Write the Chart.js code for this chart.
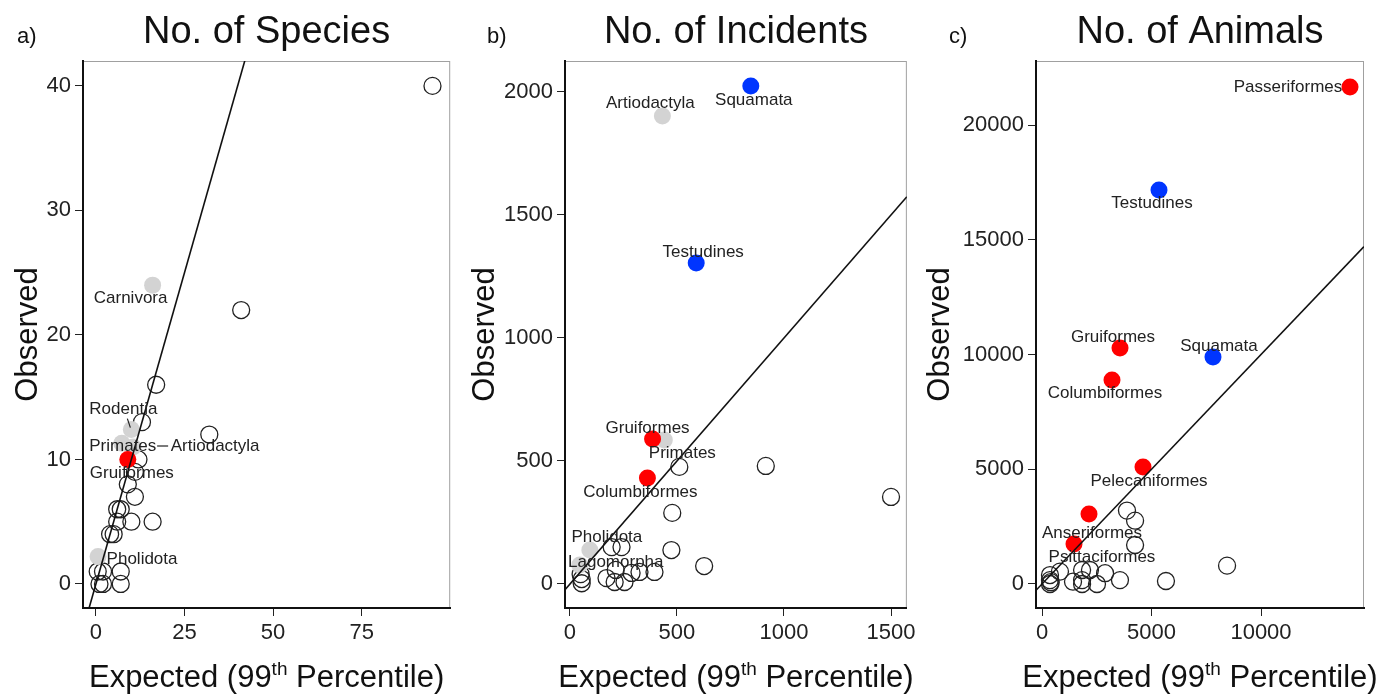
<!DOCTYPE html>
<html>
<head>
<meta charset="utf-8">
<script src="https://cdn.jsdelivr.net/npm/chart.js@4.4.1/dist/chart.umd.min.js"></script>
<style>
  body { margin: 0; background: #fff; width: 1384px; height: 695px; overflow: hidden; position: relative; }
  canvas { position: absolute; top: 0; }
</style>
</head>
<body>
<canvas id="a" width="460" height="695" style="left:0"></canvas>
<canvas id="b" width="460" height="695" style="left:460px"></canvas>
<canvas id="c" width="464" height="695" style="left:920px"></canvas>
<script>
// a) No. of Species
const speciesXTicks = [0, 25, 50, 75];
const speciesYTicks = [0, 10, 20, 30, 40];
const speciesOpen = [[95, 40], [41, 22], [17, 16], [13, 13], [32, 12], [12, 10], [11, 9], [9, 8], [11, 7],
  [6, 6], [7, 6], [6, 5], [10, 5], [16, 5], [4, 4], [5, 4], [0.5, 1], [2, 1], [7, 1], [1, 0], [2, 0], [7, 0]];
const speciesGrey = [[16, 24], [10, 12.4], [7.3, 11.3], [10.5, 11], [0.6, 2.2]];
const speciesGreyNames = ['Carnivora', 'Rodentia', 'Primates', 'Artiodactyla', 'Pholidota'];
const speciesRed = [[9, 10]];
const speciesRedNames = ['Gruiformes'];

// b) No. of Incidents
const incidentXTicks = [0, 500, 1000, 1500];
const incidentYTicks = [0, 500, 1000, 1500, 2000];
const incidentOpen = [[50, 40], [55, 20], [55, 3], [171, 24], [209, 8], [214, 57], [255, 8], [288, 45],
  [325, 49], [395, 49], [195, 150], [241, 150], [474, 138], [478, 289], [511, 476], [915, 480], [1500, 354], [627, 73]];
const incidentGrey = [[432, 1902], [441, 585], [93, 138], [46, 77]];
const incidentGreyNames = ['Artiodactyla', 'Primates', 'Pholidota', 'Lagomorpha'];
const incidentRed = [[386, 589], [362, 431]];
const incidentRedNames = ['Gruiformes', 'Columbiformes'];
const incidentBlue = [[845, 2024], [590, 1305]];
const incidentBlueNames = ['Squamata', 'Testudines'];

// c) No. of Animals
const animalXTicks = [0, 5000, 10000];
const animalYTicks = [0, 5000, 10000, 15000, 20000];
const animalOpen = [[365, 390], [365, 170], [365, 0], [400, 80], [820, 540], [1416, 100], [1830, 610], [1830, 170],
  [1830, 0], [2190, 610], [2510, 0], [2880, 470], [3560, 170], [5660, 130], [8450, 800], [3880, 3200], [4250, 2760], [4250, 1700]];
const animalRed = [[14064, 21656], [3562, 10283], [3196, 8889], [4612, 5098], [2146, 3050], [1461, 1743]];
const animalRedNames = ['Passeriformes', 'Gruiformes', 'Columbiformes', 'Pelecaniformes', 'Anseriformes', 'Psittaciformes'];
const animalBlue = [[5342, 17168], [7808, 9891]];
const animalBlueNames = ['Testudines', 'Squamata'];

// label placement (pixel offsets from the point)
const labelOffsets = {
  a: { Carnivora: [-22, 13], Rodentia: [-8, -20], Primates: [1, 3], Artiodactyla: [82, -1], Gruiformes: [4, 14], Pholidota: [44, 3] },
  b: { Squamata: [3, 14], Artiodactyla: [-12, -13], Testudines: [7, -11], Gruiformes: [-5, -11], Primates: [18, 13],
       Columbiformes: [-7, 14], Pholidota: [17, -13], Lagomorpha: [36, -3] },
  c: { Passeriformes: [-62, 0], Testudines: [-7, 13], Squamata: [6, -11], Gruiformes: [-7, -11], Columbiformes: [-7, 13],
       Pelecaniformes: [6, 14], Anseriformes: [3, 19], Psittaciformes: [28, 13] }
};
const leaderLines = {
  a: [['Rodentia', -4, -11, -1, -2], ['Artiodactyla', 24, -1, 35, -1]],
  b: [], c: []
};

const FONT = "'Liberation Sans', Arial, sans-serif";
Chart.defaults.font.family = FONT;
Chart.defaults.color = '#222';

const toXY = arr => arr.map(p => ({ x: p[0], y: p[1] }));

const decor = {
  id: 'decor',
  beforeDraw(chart) {
    const { ctx, chartArea: ca } = chart;
    ctx.save();
    ctx.strokeStyle = '#a0a0a0';
    ctx.lineWidth = 1;
    ctx.strokeRect(ca.left + 0.5, ca.top + 0.5, ca.right - ca.left - 1, ca.bottom - ca.top);
    ctx.restore();
  },
  afterDatasetsDraw(chart, args, o) {
    const { ctx } = chart;
    const xs = chart.scales.x, ys = chart.scales.y;
    ctx.save();
    ctx.fillStyle = '#222';
    ctx.strokeStyle = '#222';
    ctx.lineWidth = 1.2;
    ctx.font = '17px ' + FONT;
    ctx.textAlign = 'center';
    ctx.textBaseline = 'middle';
    const where = {};
    o.groups.forEach(g => g.data.forEach((p, i) => {
      where[g.names[i]] = [xs.getPixelForValue(p[0]), ys.getPixelForValue(p[1])];
    }));
    Object.keys(where).forEach(n => {
      const off = o.offsets[n] || [0, 14];
      ctx.fillText(n, where[n][0] + off[0], where[n][1] + off[1]);
    });
    o.leaders.forEach(l => {
      const p = where[l[0]];
      ctx.beginPath();
      ctx.moveTo(p[0] + l[1], p[1] + l[2]);
      ctx.lineTo(p[0] + l[3], p[1] + l[4]);
      ctx.stroke();
    });
    ctx.restore();
  },
  afterDraw(chart, args, o) {
    const { ctx, chartArea: ca } = chart;
    const cx = (ca.left + ca.right) / 2;
    ctx.save();
    ctx.fillStyle = '#111';
    ctx.textBaseline = 'alphabetic';
    // panel title
    ctx.font = '38px ' + FONT;
    ctx.textAlign = 'center';
    ctx.fillText(o.title, cx, 43);
    ctx.font = '22px ' + FONT;
    ctx.textAlign = 'left';
    ctx.fillText(o.letter, o.letterX, 43);
    // x title with superscript
    const big = '31px ' + FONT, small = '19px ' + FONT;
    const parts = [['Expected (99', big, 0], ['th', small, -12], [' Percentile)', big, 0]];
    let w = 0;
    parts.forEach(p => { ctx.font = p[1]; w += ctx.measureText(p[0]).width; });
    let x = cx - w / 2;
    parts.forEach(p => {
      ctx.font = p[1];
      ctx.fillText(p[0], x, 687 + p[2]);
      x += ctx.measureText(p[0]).width;
    });
    // y title
    ctx.font = '31px ' + FONT;
    ctx.textAlign = 'center';
    ctx.textBaseline = 'middle';
    ctx.translate(o.obsX, (ca.top + ca.bottom) / 2);
    ctx.rotate(-Math.PI / 2);
    ctx.fillText('Observed', 0, 0);
    ctx.restore();
  }
};

function axis(range, ticks, fit) {
  return {
    type: 'linear',
    min: range[0],
    max: range[1],
    afterBuildTicks: s => { s.ticks = ticks.map(v => ({ value: v })); },
    afterFit: fit,
    grid: { display: true, drawOnChartArea: false, drawTicks: true, tickLength: 8, color: '#222', lineWidth: 1 },
    border: { display: true, color: '#111', width: 2 },
    ticks: { font: { size: 22 }, color: '#222', padding: 4, maxRotation: 0, autoSkip: false, callback: v => String(v) }
  };
}

function makePanel(id, p) {
  const line = [{ x: p.xRange[0], y: p.xRange[0] }, { x: p.xRange[1], y: p.xRange[1] }];
  const groups = [];
  if (p.grey) groups.push({ data: p.grey, names: p.greyNames });
  if (p.red) groups.push({ data: p.red, names: p.redNames });
  if (p.blue) groups.push({ data: p.blue, names: p.blueNames });
  const datasets = [
    { type: 'line', data: line, borderColor: '#111', borderWidth: 1.6, pointRadius: 0, order: 0 },
    { data: toXY(p.open), pointRadius: 8.5, pointBorderWidth: 1.3, pointBorderColor: '#222',
      pointBackgroundColor: 'rgba(0,0,0,0)', order: 4 }
  ];
  if (p.grey) datasets.push({ data: toXY(p.grey), pointRadius: 8.5, pointBorderWidth: 0, pointBackgroundColor: '#d3d3d3', order: 3 });
  if (p.red) datasets.push({ data: toXY(p.red), pointRadius: 8.5, pointBorderWidth: 0, pointBackgroundColor: '#ff0000', order: 2 });
  if (p.blue) datasets.push({ data: toXY(p.blue), pointRadius: 8.5, pointBorderWidth: 0, pointBackgroundColor: '#0035ff', order: 1 });

  new Chart(document.getElementById(id), {
    type: 'scatter',
    data: { datasets: datasets },
    options: {
      responsive: false,
      animation: false,
      layout: { padding: { top: 61, right: p.padRight, left: 0, bottom: 0 } },
      scales: {
        x: axis(p.xRange, p.xTicks, s => { s.height = 87; }),
        y: axis(p.yRange, p.yTicks, s => { s.width = p.axisLeft; })
      },
      plugins: {
        legend: { display: false },
        tooltip: { enabled: false },
        decor: { title: p.title, letter: p.letter, letterX: p.letterX, obsX: p.obsX, groups: groups,
                 offsets: labelOffsets[id], leaders: leaderLines[id] }
      }
    },
    plugins: [decor]
  });
}

makePanel('a', {
  title: 'No. of Species', letter: 'a)', letterX: 17, obsX: 28, axisLeft: 83, padRight: 8,
  xRange: [-3.65, 100], yRange: [-1.93, 42.0], xTicks: speciesXTicks, yTicks: speciesYTicks,
  open: speciesOpen, grey: speciesGrey, greyNames: speciesGreyNames, red: speciesRed, redNames: speciesRedNames
});
makePanel('b', {
  title: 'No. of Incidents', letter: 'b)', letterX: 27, obsX: 25, axisLeft: 105, padRight: 11,
  xRange: [-23, 1574], yRange: [-97.6, 2126], xTicks: incidentXTicks, yTicks: incidentYTicks,
  open: incidentOpen, grey: incidentGrey, greyNames: incidentGreyNames, red: incidentRed, redNames: incidentRedNames,
  blue: incidentBlue, blueNames: incidentBlueNames
});
makePanel('c', {
  title: 'No. of Animals', letter: 'c)', letterX: 29, obsX: 20, axisLeft: 116, padRight: 20,
  xRange: [-274, 14703], yRange: [-1046, 22794], xTicks: animalXTicks, yTicks: animalYTicks,
  open: animalOpen, red: animalRed, redNames: animalRedNames, blue: animalBlue, blueNames: animalBlueNames
});
</script>
</body>
</html>
